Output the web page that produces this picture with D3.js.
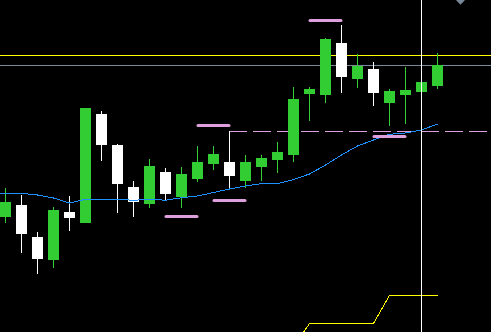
<!DOCTYPE html>
<html>
<head>
<meta charset="utf-8">
<script src="https://cdn.jsdelivr.net/npm/d3@7"></script>
<style>
html, body { margin: 0; padding: 0; background: #000; overflow: hidden; }
svg { display: block; }
</style>
</head>
<body>
<script>
// candle data, one entry per bar (bar 0 is the leftmost visible one)
var opens  = [115, 127, 95, 72, 120, 109, 218, 187, 145, 128, 160, 135, 153, 168, 170, 151, 165, 172, 177, 238, 237, 289, 253, 263, 229, 237, 240, 246];
var highs  = [144, 137, 100, 125, 136, 224, 221, 188, 151, 173, 164, 165, 186, 186, 201, 177, 177, 190, 245, 245, 294, 307, 278, 270, 243, 265, 250, 279];
var lows   = [109, 79, 58, 64, 101, 109, 171, 119, 115, 124, 132, 124, 150, 162, 142, 144, 151, 159, 170, 211, 229, 239, 244, 226, 206, 208, 240, 243];
var closes = [130, 98, 73, 122, 114, 224, 187, 148, 130, 166, 138, 158, 170, 178, 156, 170, 174, 180, 233, 243, 293, 255, 266, 239, 241, 242, 250, 267];

// moving average, starts one bar before bar 0
var maValues = [137, 138.7, 138.7, 137, 134, 129, 132.7, 132.7, 132.7, 131.7, 132.7, 131.8, 134.3, 136, 139.5, 143, 146, 148.3, 148.3, 152.5, 158, 167, 177, 186, 192, 197.7, 199, 202, 208];

// fractal marks
var upBars = [13, 20];
var upVals = [206.5, 311.5];
var downBars = [11, 14, 24];
var downVals = [115.5, 131.5, 195.5];

// yellow step indicator
var stepBars = [18, 19, 20, 21, 22, 23, 24, 25, 26, 27];
var stepVals = [-15, 8.5, 8.5, 8.5, 8.5, 8.5, 36.5, 36.5, 36.5, 36.5];

// horizontal levels
var askLevel = 276.5;
var bidLevel = 266.5;
var highLevelBar = 14;
var highLevel = 200.5;
var crossBar = 26;

var width = 491, height = 332;

var x = d3.scaleLinear().domain([0, 27]).range([5.5, 437.5]);
var y = d3.scaleLinear().domain([0, 332]).range([332, 0]);

var green = "#32cd32";

var svg = d3.select("body")
    .append("svg")
        .attr("width", width)
        .attr("height", height)
        .style("background", "#000");

svg.append("rect")
    .attr("width", width)
    .attr("height", height)
    .attr("fill", "#000");

// bid / ask lines
svg.append("line")
    .attr("x1", 0).attr("x2", width)
    .attr("y1", y(askLevel)).attr("y2", y(askLevel))
    .attr("stroke", "#ffff00")
    .attr("shape-rendering", "crispEdges");

svg.append("line")
    .attr("x1", 0).attr("x2", width)
    .attr("y1", y(bidLevel)).attr("y2", y(bidLevel))
    .attr("stroke", "#778899")
    .attr("shape-rendering", "crispEdges");

// dashed level from the high of bar 14
svg.append("line")
    .attr("x1", x(highLevelBar) - 0.5).attr("x2", width)
    .attr("y1", y(highLevel)).attr("y2", y(highLevel))
    .attr("stroke", "#dda0dd")
    .attr("stroke-dasharray", "18,6")
    .attr("shape-rendering", "crispEdges");

// candles
var bars = d3.range(opens.length).map(function(i) {
    return {i: i, o: opens[i], h: highs[i], l: lows[i], c: closes[i]};
});

var candle = svg.append("g").selectAll("g")
    .data(bars)
    .enter().append("g");

candle.append("line")
    .attr("x1", function(d) { return x(d.i); })
    .attr("x2", function(d) { return x(d.i); })
    .attr("y1", function(d) { return y(d.h); })
    .attr("y2", function(d) { return y(d.l); })
    .attr("stroke", function(d) { return d.c >= d.o ? green : "#fff"; })
    .attr("shape-rendering", "crispEdges");

candle.append("rect")
    .attr("x", function(d) { return x(d.i) - 5.5; })
    .attr("width", 11)
    .attr("y", function(d) { return y(Math.max(d.o, d.c)); })
    .attr("height", function(d) { return Math.max(1, Math.abs(d.o - d.c)); })
    .attr("fill", function(d) { return d.c >= d.o ? green : "#fff"; })
    .attr("shape-rendering", "crispEdges");

// moving average
var maLine = d3.line()
    .x(function(d) { return x(d[0]); })
    .y(function(d) { return y(d[1]); });

svg.append("path")
    .attr("d", maLine(maValues.map(function(v, k) { return [k - 1, v]; })))
    .attr("fill", "none")
    .attr("stroke", "#1e90ff")
    .attr("stroke-width", 1)
    .attr("shape-rendering", "crispEdges");

// fractals
var fractals = upBars.map(function(b, k) { return [b, upVals[k]]; })
    .concat(downBars.map(function(b, k) { return [b, downVals[k]]; }));

svg.append("g").selectAll("line")
    .data(fractals)
    .enter().append("line")
        .attr("x1", function(d) { return x(d[0]) - 15.5; })
        .attr("x2", function(d) { return x(d[0]) + 15.5; })
        .attr("y1", function(d) { return y(d[1]); })
        .attr("y2", function(d) { return y(d[1]); })
        .attr("stroke", "#dda0dd")
        .attr("stroke-width", 3)
        .attr("stroke-linecap", "round");

// step indicator
svg.append("path")
    .attr("d", maLine(stepBars.map(function(b, k) { return [b, stepVals[k]]; })))
    .attr("fill", "none")
    .attr("stroke", "#ffff00")
    .attr("shape-rendering", "crispEdges");

// crosshair
svg.append("line")
    .attr("x1", x(crossBar)).attr("x2", x(crossBar))
    .attr("y1", 0).attr("y2", height)
    .attr("stroke", "#fff")
    .attr("shape-rendering", "crispEdges");

// chart shift marker
svg.append("path")
    .attr("d", "M" + (width - 35) + ",0 L" + (width - 26) + ",0 L" + (width - 30.5) + ",4.7 Z")
    .attr("fill", "#778899");
</script>
</body>
</html>
